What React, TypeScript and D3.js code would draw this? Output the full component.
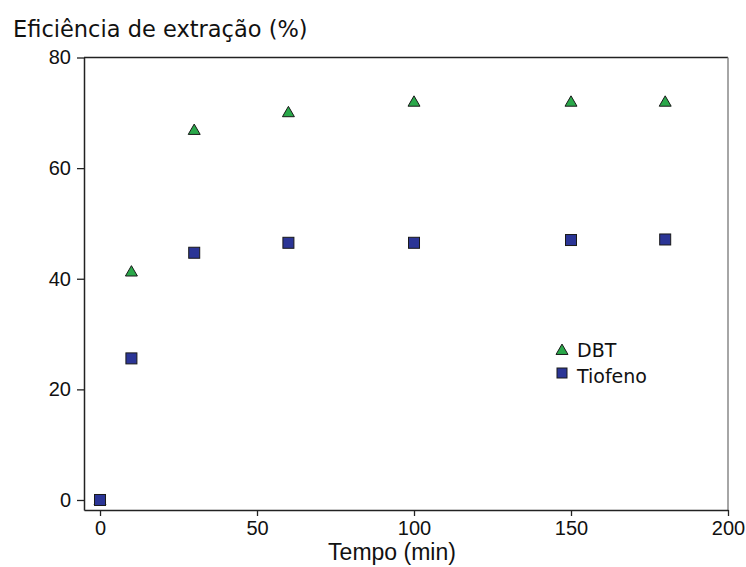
import React, { useEffect, useRef } from 'react'
import * as d3 from 'd3'

// tempo (min)
const tempo = [0, 10, 30, 60, 100, 150, 180]
const dbt = [0, 41.3, 66.9, 70.1, 72.0, 72.0, 72.0]
const tiofeno = [0, 25.6, 44.7, 46.5, 46.5, 47.0, 47.1]

const xTicks = [0, 50, 100, 150, 200]
const yTicks = [0, 20, 40, 60, 80]

const seriesNames = ['DBT', 'Tiofeno']

export default function App() {
  const ref = useRef<SVGSVGElement>(null)

  useEffect(() => {
    const svg = d3.select(ref.current)
    svg.selectAll('*').remove()

    const left = 84, right = 728, top = 57.5, bottom = 510

    const x = d3.scaleLinear().domain([-5.1, 200]).range([left, right])
    const y = d3.scaleLinear().domain([-1.81, 80]).range([bottom, top])

    // frame
    svg.append('line')
      .attr('x1', left).attr('x2', right).attr('y1', top).attr('y2', top)
      .attr('stroke', '#222').attr('stroke-width', 1.5)
    svg.append('line')
      .attr('x1', right).attr('x2', right).attr('y1', top).attr('y2', bottom)
      .attr('stroke', '#888').attr('stroke-width', 1.5)

    const xAxis = svg.append('g')
      .attr('transform', `translate(0,${bottom})`)
      .call(d3.axisBottom(x).tickValues(xTicks).tickSize(6).tickSizeOuter(0).tickPadding(5))
    const yAxis = svg.append('g')
      .attr('transform', `translate(${left},0)`)
      .call(d3.axisLeft(y).tickValues(yTicks).tickSize(7).tickSizeOuter(0).tickPadding(6))

    for (const ax of [xAxis, yAxis]) {
      ax.select('.domain').attr('stroke', '#222').attr('stroke-width', 1.5)
      ax.selectAll('.tick line').attr('stroke', '#222').attr('stroke-width', 1.3)
      ax.selectAll('.tick text')
        .attr('fill', '#111')
        .style('font-family', '"Liberation Sans", Arial, sans-serif')
        .style('font-size', '20px')
    }

    const tri = d3.symbol().type(d3.symbolTriangle).size(62)

    // DBT triangles
    svg.append('g').selectAll('path')
      .data(tempo).enter().append('path')
      .attr('d', tri)
      .attr('transform', (d, i) => `translate(${x(d)},${y(dbt[i]) + 1})`)
      .attr('fill', '#2aa84a')
      .attr('stroke', '#1a1a1a')
      .attr('stroke-width', 1)

    // Tiofeno squares
    svg.append('g').selectAll('rect')
      .data(tempo).enter().append('rect')
      .attr('x', d => x(d) - 5.5)
      .attr('y', (d, i) => y(tiofeno[i]) - 5.5)
      .attr('width', 11).attr('height', 11)
      .attr('fill', '#2b3596')
      .attr('stroke', '#1a1a1a')
      .attr('stroke-width', 1)

    // legend
    const lg = svg.append('g').attr('transform', 'translate(562,350)')
    lg.append('path')
      .attr('d', tri)
      .attr('transform', 'translate(0,1)')
      .attr('fill', '#2aa84a').attr('stroke', '#1a1a1a').attr('stroke-width', 1)
    lg.append('rect')
      .attr('x', -5).attr('y', 18).attr('width', 10).attr('height', 10)
      .attr('fill', '#2b3596').attr('stroke', '#1a1a1a').attr('stroke-width', 1)
    lg.selectAll('text')
      .data(seriesNames).enter().append('text')
      .attr('x', 15)
      .attr('y', (d, i) => 7 + i * 26)
      .attr('fill', '#111')
      .style('font-family', '"DejaVu Sans", Verdana, sans-serif')
      .style('font-size', '19px')
      .text(d => d)

    // titles
    svg.append('text')
      .attr('x', 13).attr('y', 37)
      .attr('fill', '#111')
      .style('font-family', '"DejaVu Sans", Verdana, sans-serif')
      .style('font-size', '22.5px')
      .text('Eficiência de extração (%)')

    svg.append('text')
      .attr('x', 392).attr('y', 560)
      .attr('text-anchor', 'middle')
      .attr('fill', '#111')
      .style('font-family', '"Liberation Sans", Arial, sans-serif')
      .style('font-size', '23px')
      .text('Tempo (min)')
  }, [])

  return (
    <svg ref={ref} width={746} height={567}
      style={{ position: 'absolute', left: 0, top: 0, background: '#fff' }} />
  )
}
